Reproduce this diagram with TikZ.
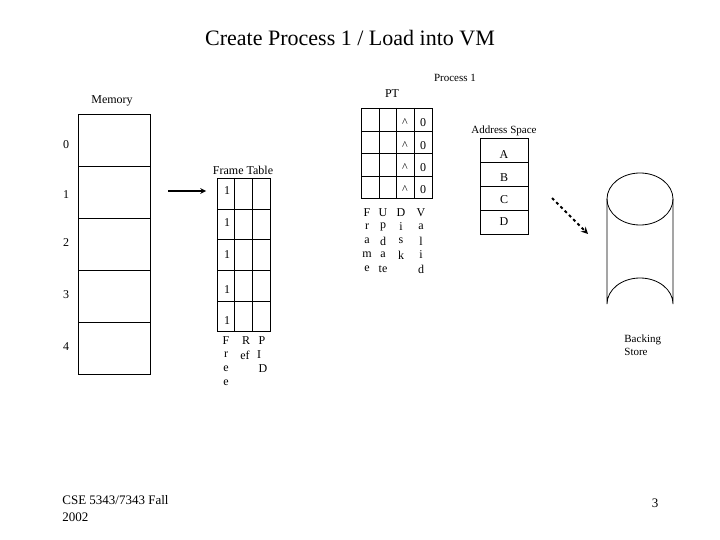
\documentclass[tikz,border=0pt]{standalone}
\usepackage{fontspec}
\setmainfont{Liberation Serif}
\begin{document}
\begin{tikzpicture}[x=1pt,y=-1pt,line width=0.8pt,
  lab/.style={font=\fontsize{12}{14}\selectfont,inner sep=0pt},
  sm/.style={font=\fontsize{11}{13}\selectfont,inner sep=0pt}]
\useasboundingbox (0,0) rectangle (720,540);
\node[font=\fontsize{22}{26}\selectfont] (title) at (350,38) {Create Process 1 / Load into VM};
% Memory
\draw (78,114) rectangle (150,374);
\foreach \y in {166,218,270,322} \draw (78,\y) -- (150,\y);
\node[lab] (mem) at (112,101) {Memory};
\foreach \i/\y in {0/145,1/195,2/243,3/295,4/347} \node[lab] (m\i) at (66,\y) {\i};
% arrow
\coordinate (a1) at (168,191);
\coordinate (a2) at (206,191);
\draw[line width=1.5pt,-stealth] (a1) -- (a2);
% Frame table
\node[lab] (ft) at (243,170) {Frame Table};
\draw (217,178) rectangle (270,331);
\draw (234,178) -- (234,331) (252,178) -- (252,331);
\foreach \y in {209,239,270,301} \draw (217,\y) -- (270,\y);
\foreach \y [count=\k] in {191,223,255,290,321} \node[lab] (f\k) at (227,\y) {1};
\foreach \c/\y [count=\k] in {F/341,r/355,e/369,e/383} \node[lab] (fa\k) at (226,\y) {\c};
\node[lab] (r1) at (246,341) {R};
\node[lab] (r2) at (245,355) {ef};
\node[lab] (p1) at (262,341) {P};
\node[lab] (p2) at (259,355) {I};
\node[lab] (p3) at (263,369) {D};
% PT
\node[lab] (pt) at (392,94) {PT};
\node[sm] (proc) at (455,78) {Process 1};
\draw (361,108) rectangle (432,198);
\foreach \x in {379,396,414} \draw (\x,108) -- (\x,198);
\foreach \y in {131,153,176} \draw (361,\y) -- (432,\y);
\foreach \y [count=\k] in {123,146,168,190} {\node[lab] (c\k) at (405,\y) {\textasciicircum}; \node[lab] (v\k) at (423,\y) {0};}
\foreach \c/\y [count=\k] in {F/213,r/227,a/241,m/255,e/269} \node[lab] (la\k) at (367,\y) {\c};
\foreach \c/\y [count=\k] in {U/213,p/227,d/241,a/255,te/269} \node[lab] (lb\k) at (383,\y) {\c};
\foreach \c/\y [count=\k] in {D/213,i/227,s/241,k/255} \node[lab] (lc\k) at (401,\y) {\c};
\foreach \c/\y [count=\k] in {V/213,a/227,l/241,i/255,d/269} \node[lab] (ld\k) at (421,\y) {\c};
% Address space
\node[sm] (as) at (504,131) {Address Space};
\draw (480,138) rectangle (528,234);
\foreach \y in {162,186,210} \draw (480,\y) -- (528,\y);
\foreach \t/\y in {A/155,B/178,C/200,D/222} \node[lab] (as\t) at (504,\y) {\t};
% dashed arrow
\coordinate (d1) at (552,198);
\coordinate (d2) at (588,234);
\draw[line width=2pt,dashed,-stealth] (d1) -- (d2);
% cylinder
\draw (607,199) -- (607,304) arc[start angle=180,end angle=360,x radius=33,y radius=26] -- (673,199);
\draw (640,199) ellipse[x radius=33,y radius=26];
\node[sm,align=left,anchor=north west] (bs) at (624,334) {Backing\\Store};
% footer
\node[lab,align=left,anchor=north west,font=\fontsize{13}{17}\selectfont] (foot) at (62,495) {CSE 5343/7343 Fall\\2002};
\node[lab,font=\fontsize{13}{15}\selectfont] (pg) at (655,503) {3};
\end{tikzpicture}
\end{document}
